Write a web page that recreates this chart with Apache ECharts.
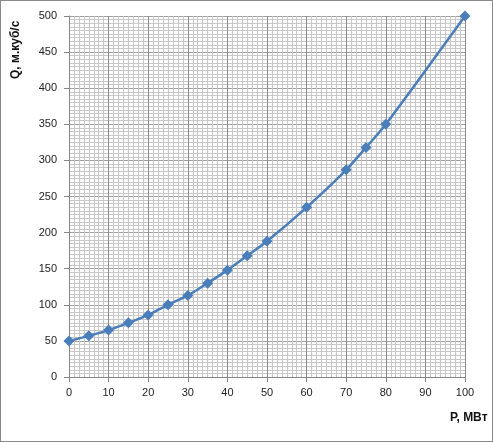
<!DOCTYPE html>
<html><head><meta charset="utf-8">
<script src="https://cdn.jsdelivr.net/npm/echarts@6/dist/echarts.min.js"></script>
<style>html,body{margin:0;padding:0;background:#fff}#c{width:493px;height:442px;box-sizing:border-box;border:1px solid #8a8a8a}</style>
</head><body><div id="c"></div>
<script>
const pValues = [0, 5, 10, 15, 20, 25, 30, 35, 40, 45, 50, 60, 70, 75, 80, 100];
const qValues = [50, 57, 65, 75, 86, 100, 113, 130, 148, 168, 188, 235, 287, 318, 350, 500];
const xTicks = [0, 10, 20, 30, 40, 50, 60, 70, 80, 90, 100];
const yTicks = [0, 50, 100, 150, 200, 250, 300, 350, 400, 450, 500];
const xName = 'P, МВт';
const yName = 'Q, м.куб/с';

const chart = echarts.init(document.getElementById('c'));
const fontFamily = 'Liberation Sans, Arial, sans-serif';
chart.setOption({
  animation: false,
  grid: {left: 68, right: 27, top: 15, bottom: 64},
  xAxis: {
    type: 'value', min: xTicks[0], max: xTicks[xTicks.length-1], interval: 10,
    axisLine: {show: true, onZero: false, lineStyle: {color: '#868686'}},
    axisTick: {show: true, length: 5, lineStyle: {color: '#868686'}},
    axisLabel: {color: '#222', fontSize: 11, fontFamily, margin: 10},
    splitLine: {show: true, lineStyle: {color: '#8c8c8c', width: 1}},
    minorTick: {show: false, splitNumber: 8},
    minorSplitLine: {show: true, lineStyle: {color: '#c8c8c8', width: 1}}
  },
  yAxis: {
    type: 'value', min: yTicks[0], max: yTicks[yTicks.length-1], interval: 50,
    axisLine: {show: true, lineStyle: {color: '#868686'}},
    axisTick: {show: true, length: 5, lineStyle: {color: '#868686'}},
    axisLabel: {color: '#222', fontSize: 11, fontFamily, margin: 12},
    splitLine: {show: true, lineStyle: {color: '#a0a0a0', width: 1}},
    minorTick: {show: false, splitNumber: 10},
    minorSplitLine: {show: true, lineStyle: {color: '#c8c8c8', width: 1}}
  },
  graphic: [
    {type: 'text', left: 449, top: 411, style: {text: xName, font: 'bold 12px ' + fontFamily, fill: '#111'}},
    {type: 'text', x: 9, y: 78, rotation: Math.PI/2, style: {text: yName, font: 'bold 12px ' + fontFamily, fill: '#111'}}
  ],
  series: [{
    type: 'line', smooth: 0.3,
    data: pValues.map((p, i) => [p, qValues[i]]),
    symbol: 'diamond', symbolSize: 11,
    lineStyle: {color: '#4a7ebb', width: 2.5},
    itemStyle: {color: '#4a7ebb'}
  }]
});
</script></body></html>
